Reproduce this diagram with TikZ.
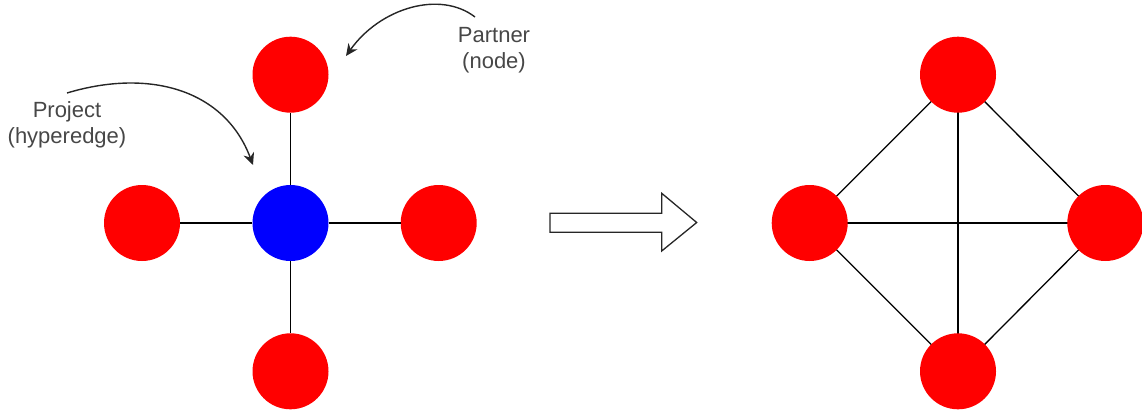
\documentclass[tikz,border=0pt]{standalone}
\usepackage{fontspec}
\setmainfont{Liberation Sans}
\usetikzlibrary{arrows.meta}
\begin{document}
\begin{tikzpicture}[x=1pt,y=-1pt,
  partner/.style={circle,fill=red,minimum size=76pt,inner sep=0pt},
  project/.style={circle,fill=blue,minimum size=76pt,inner sep=0pt},
  link/.style={draw=black,line width=1.3pt},
  callout/.style={draw=black!85,line width=1.4pt,-{Stealth[length=12pt,width=11pt]}},
  note/.style={text=black!72,font=\fontsize{22}{26.5}\selectfont,align=center,inner sep=0pt},
  bigarrow/.style={draw=black!85,line width=1.3pt,fill=white,line join=miter}]
\useasboundingbox (0,0) rectangle (1142,412);

% left: one project joining four partners
\node[project] (hub) at (290.5,223) {};
\node[partner] (pt) at (290.5,74.7) {};
\node[partner] (pl) at (142,223) {};
\node[partner] (pr) at (438.7,223) {};
\node[partner] (pb) at (290.5,371.3) {};
\draw[link] (hub) -- (pt);
\draw[link] (hub) -- (pl);
\draw[link] (hub) -- (pr);
\draw[link] (hub) -- (pb);

% labels with curved pointers
\node[note] (projlbl) at (67,125) {Project\\(hyperedge)};
\node[note] (partlbl) at (494,50) {Partner\\(node)};
\coordinate (projfrom) at (67,93);
\coordinate (projto) at (253,165);
\coordinate (partfrom) at (475,17);
\coordinate (partto) at (346,56);
\draw[callout] (projfrom) .. controls (150,68) and (225,90) .. (projto);
\draw[callout] (partfrom) .. controls (440,-10) and (380,8) .. (partto);

% transformation arrow
\draw[bigarrow] (550,213.3) -- (661.7,213.3) -- (661.7,193.3) -- (696.7,222.5)
  -- (661.7,251) -- (661.7,232.3) -- (550,232.3) -- cycle;

% right: the induced clique among partners
\coordinate (ct) at (958,74.7);
\coordinate (cl) at (809.7,223);
\coordinate (cr) at (1105.3,223);
\coordinate (cb) at (958,371.3);
\draw[link] (ct) -- (cl);
\draw[link] (ct) -- (cr);
\draw[link] (cb) -- (cl);
\draw[link] (cb) -- (cr);
\draw[link] (ct) -- (cb);
\draw[link] (cl) -- (cr);
\node[partner] (qt) at (ct) {};
\node[partner] (ql) at (cl) {};
\node[partner] (qr) at (cr) {};
\node[partner] (qb) at (cb) {};
\end{tikzpicture}
\end{document}
